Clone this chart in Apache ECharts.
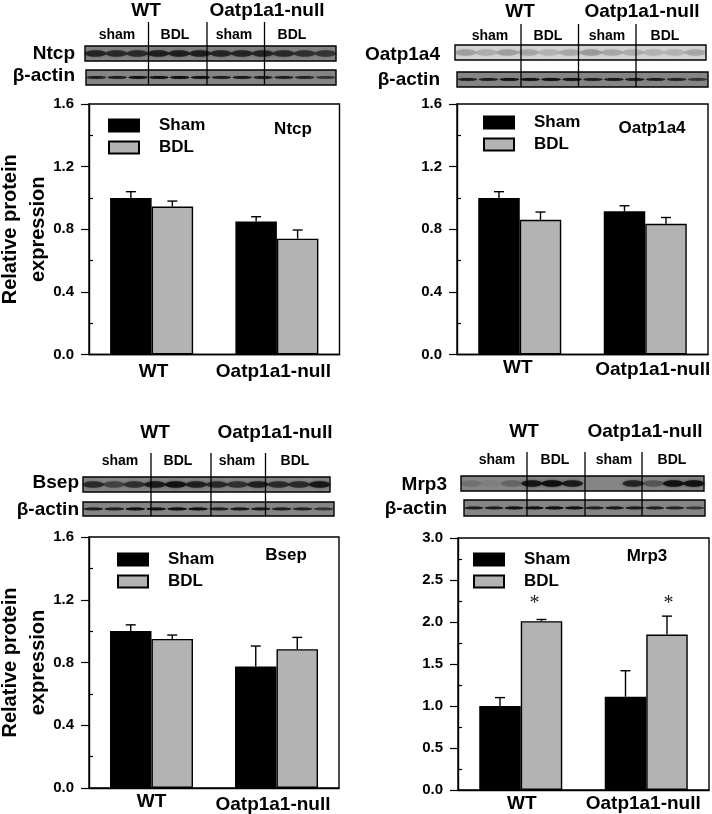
<!DOCTYPE html>
<html><head><meta charset="utf-8">
<script src="https://cdn.jsdelivr.net/npm/echarts@6/dist/echarts.min.js"></script>
<style>html,body{margin:0;padding:0;background:#fff}#c{width:712px;height:814px}</style>
</head><body><div id="c"></div>
<script>
const FONT = '"Liberation Sans", Arial, sans-serif';
const categories = ['WT', 'Oatp1a1-null'];
const panelNames = ['Ntcp', 'Oatp1a4', 'Bsep', 'Mrp3'];
const shamValues = [[1.0, 0.85], [1.0, 0.915], [1.0, 0.775], [1.0, 1.11]];
const bdlValues = [[0.945, 0.74], [0.86, 0.835], [0.95, 0.885], [2.01, 1.85]];
const shamErrTop = [[1.04, 0.88], [1.04, 0.95], [1.04, 0.905], [1.10, 1.42]];
const bdlErrTop = [[0.98, 0.795], [0.91, 0.875], [0.975, 0.96], [2.03, 2.07]];
const starValues = [[], [], [], [2.26, 2.26]];
const yMax = [1.6, 1.6, 1.6, 3.0];
const yStep = [0.4, 0.4, 0.4, 0.5];
const laneLabels = ['sham', 'BDL', 'sham', 'BDL'];
const targetBands = [
  [.75,.7,.7,.8,.8,.8,.75,.75,.75,.7,.65,.6],
  [.45,.35,.45,.4,.3,.4,.5,.4,.35,.3,.3,.4],
  [.7,.5,.65,.85,.95,.8,.7,.65,.8,.7,.7,.9],
  [.15,.05,.25,.9,1,.85,0,0,.75,.35,.95,.95]
];
const actinBands = [
  [.8,.8,.95,.95,1,.95,.8,.85,.85,.8,.75,.6],
  [.8,.8,.95,.95,1,.95,.8,.85,.85,.8,.75,.6],
  [.8,.8,.95,.95,1,.95,.8,.85,.85,.8,.75,.6],
  [.8,.8,.95,.95,1,.95,.8,.85,.85,.8,.75,.6]
];

const layouts = [
 {grid:[89,104,250.5,250.5], legend:[108,117], tag:[293,128], xPad:[[4,0,0,4],[4,7,0,0]], yName:true,
  head:[146,267,10], lanes:[117,175,234,292,34], t:[85,46,251,15], a:[86,70,250,15], lines:[148.5,207,264.5,22,85], lab:[75,53,75,75]},
 {grid:[457,104,251,250.5], legend:[483,114], tag:[652,127], xPad:[[0,4,0,0],[2,0,0,15]], yName:false,
  head:[520,642,11], lanes:[490,548,607,665,35], t:[455,45,251,15], a:[457,72,251,15], lines:[521,578.5,636,24,87], lab:[440,54,440,79], light:true},
 {grid:[89,537,250,251], legend:[117,551], tag:[286,554], xPad:[[0,0,0,0],[3,7,0,0]], yName:true,
  head:[155,275,432], lanes:[120,178,237,295,460], t:[83,477,247,15], a:[83,502,251,14], lines:[151,211,265.5,453,516], lab:[79,482,79,509]},
 {grid:[458,538,251,252], legend:[473,551], tag:[647,555], xPad:[[0,0,0,2],[0,6,0,0]], yName:false,
  head:[524,645,431], lanes:[497,555,614,672,459], t:[461,476,243,15], a:[464,500,241,16], lines:[527,585,642,452,516], lab:[447,484,447,508], starDx:[-7,1.5]}
];

const BAR_W = 41.5;
const graphics = [];
function txt(x, y, s, size, align) {
  graphics.push({type:'text', z:20, silent:true, x, y:y+1, style:{text:s, font:`bold ${size}px ${FONT}`, fill:'#000', align:align||'center', verticalAlign:'middle'}});
}
function blot(box, bands, thin, light) {
  const [x,y,w,h] = box;
  graphics.push({type:'rect', z:5, silent:true, shape:{x,y,width:w,height:h},
    style:{fill: light ? '#d4d4d4' : '#858585', stroke:'#000', lineWidth:1.4}});
  const pitch = w/12;
  bands.forEach((v,i)=>{
    if(v<=0) return;
    graphics.push({type:'ellipse', z:6, silent:true,
      shape:{cx:x+pitch*(i+.5), cy:y+h/2, rx:pitch*(thin?.46:.52), ry:thin?1.4:3.2},
      style:{fill:`rgba(${light?'80,80,80':'15,15,15'},${v*(light?.7:1)})`, shadowBlur:thin?1:3, shadowColor:`rgba(15,15,15,${v*.6})`}});
  });
}
layouts.forEach((L,i)=>{
  txt(L.head[0], L.head[2], categories[0], 19);
  txt(L.head[1], L.head[2], categories[1], 19);
  laneLabels.forEach((s,k)=>txt(L.lanes[k], L.lanes[4], s, 14));
  blot(L.t, targetBands[i], false, L.light);
  blot(L.a, actinBands[i], true, false);
  txt(L.lab[0], L.lab[1], panelNames[i], 19, 'right');
  txt(L.lab[2], L.lab[3], 'β-actin', 19, 'right');
  L.lines.slice(0,3).forEach(x=>graphics.push({type:'line', z:10, silent:true,
    shape:{x1:x,y1:L.lines[3],x2:x,y2:L.lines[4]}, style:{stroke:'#000', lineWidth:1.3}}));
  txt(L.tag[0], L.tag[1], panelNames[i], 17);
});

function errSeries(i, tops, vals, sign) {
  return {type:'custom', xAxisIndex:i, yAxisIndex:i, z:5, silent:true,
    data: tops[i].map((t,c)=>[c,t,vals[i][c]]),
    renderItem(p, api){
      const top = api.coord([api.value(0), api.value(1)]);
      const base = api.coord([api.value(0), api.value(2)]);
      const x = top[0] + sign*BAR_W/2;
      const st = {stroke:'#000', lineWidth:1.4, fill:null};
      return {type:'group', children:[
        {type:'line', shape:{x1:x,y1:base[1],x2:x,y2:top[1]}, style:st},
        {type:'line', shape:{x1:x-5,y1:top[1],x2:x+5,y2:top[1]}, style:st}
      ]};
    }};
}
const grids=[], xAxes=[], yAxes=[], series=[], legends=[];
layouts.forEach((L,i)=>{
  grids.push({left:L.grid[0], top:L.grid[1], width:L.grid[2], height:L.grid[3], outerBoundsMode:'none', containLabel:false,
    show:true, borderColor:'#000', borderWidth:1.4, backgroundColor:'transparent'});
  xAxes.push({type:'category', gridIndex:i,
    data: categories.map((c,k)=>({value:c, textStyle:{padding:L.xPad[k]}})),
    axisTick:{show:false}, axisLine:{lineStyle:{color:'#000',width:1.4}},
    axisLabel:{color:'#000', fontFamily:FONT, fontWeight:'bold', fontSize:19, margin:4, interval:0}});
  yAxes.push({type:'value', gridIndex:i, min:0, max:yMax[i], interval:yStep[i],
    name: L.yName ? 'Relative protein\nexpression' : '', nameLocation:'middle', nameRotate:90, nameGap:37, nameMoveOverlap:false,
    nameTextStyle:{color:'#000', fontFamily:FONT, fontWeight:'bold', fontSize:20, lineHeight:28},
    axisLine:{show:true, lineStyle:{color:'#000',width:1.4}},
    axisTick:{show:true, length:8, lineStyle:{color:'#000',width:1.2}},
    minorTick:{show:true, splitNumber:2, length:-4, lineStyle:{color:'#000',width:1.2}},
    splitLine:{show:false}, minorSplitLine:{show:false},
    axisLabel:{color:'#000', fontFamily:FONT, fontWeight:'bold', fontSize:15, margin:15,
      formatter:v=>v.toFixed(1)}});
  series.push({name:'Sham', type:'bar', xAxisIndex:i, yAxisIndex:i, data:shamValues[i], barWidth:BAR_W, barGap:'0%', silent:true,
    itemStyle:{color:'#000', borderColor:'#000', borderWidth:1.4}});
  series.push({name:'BDL', type:'bar', xAxisIndex:i, yAxisIndex:i, data:bdlValues[i], barWidth:BAR_W, barGap:'0%', silent:true,
    itemStyle:{color:'#b3b3b3', borderColor:'#000', borderWidth:1.4}});
  series.push(errSeries(i, shamErrTop, shamValues, -1));
  series.push(errSeries(i, bdlErrTop, bdlValues, 1));
  if(starValues[i].length) series.push({type:'custom', xAxisIndex:i, yAxisIndex:i, z:6, silent:true,
    data: starValues[i].map((s,c)=>[c,s]),
    renderItem(p, api){
      const c = api.coord([api.value(0), api.value(1)]);
      return {type:'text', x:c[0]+BAR_W/2+L.starDx[api.value(0)], y:c[1]+4, style:{text:'*', font:`20px "Liberation Serif", serif`, fill:'#222', align:'center', verticalAlign:'middle'}};
    }});
  legends.push({data:[{name:'Sham',icon:'rect'},{name:'BDL',icon:'rect'}], orient:'vertical', left:L.legend[0], top:L.legend[1], padding:0,
    itemWidth:30, itemHeight:12, itemGap:5, selectedMode:false,
    textStyle:{color:'#000', fontFamily:FONT, fontWeight:'bold', fontSize:17, padding:[0,0,0,15]}});
});
const chart = echarts.init(document.getElementById('c'), null, {renderer:'canvas'});
chart.setOption({animation:false, backgroundColor:'#fff', tooltip:{show:false},
  grid:grids, xAxis:xAxes, yAxis:yAxes, series, legend:legends, graphic:{elements:graphics}});
</script></body></html>
